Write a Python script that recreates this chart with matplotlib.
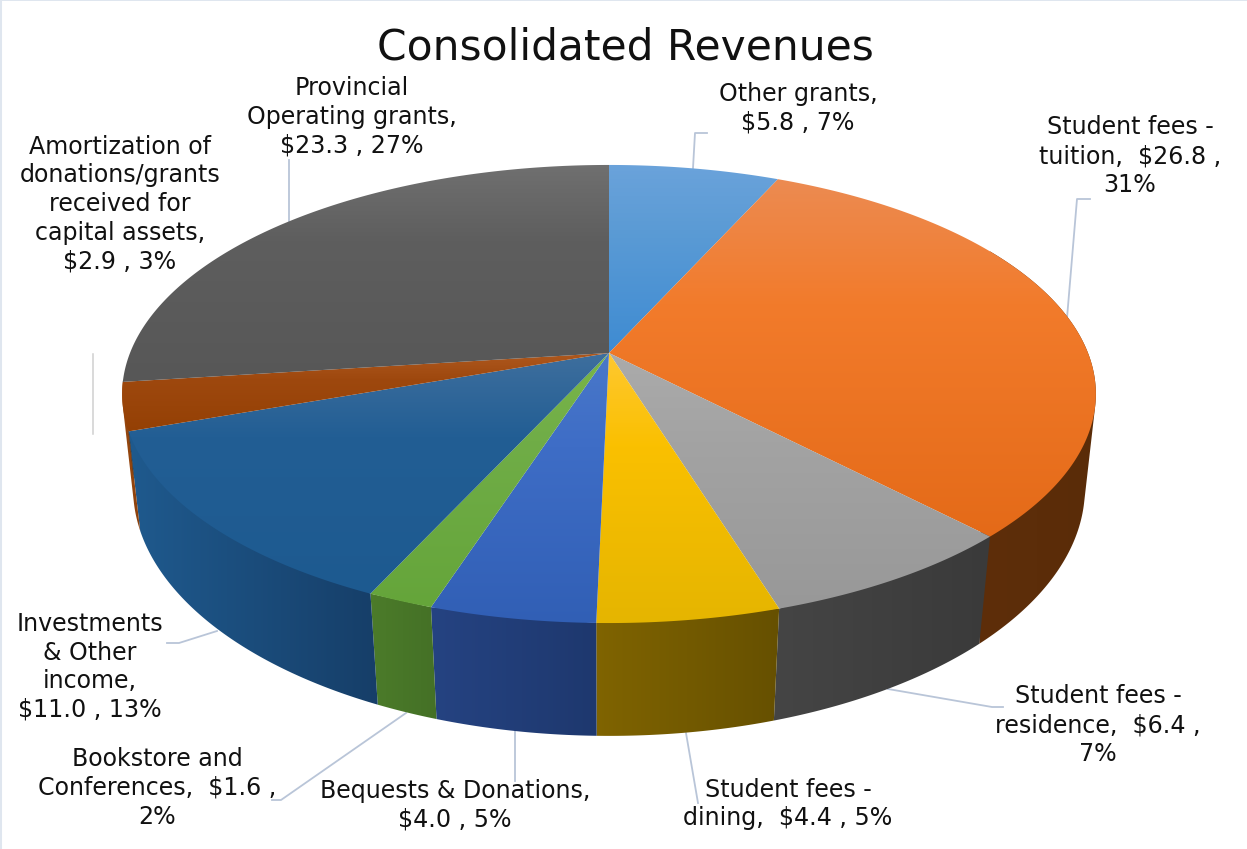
import numpy as np
import matplotlib
matplotlib.use("Agg")
import matplotlib.pyplot as plt
from matplotlib.colors import to_rgb
from matplotlib.patches import Polygon

# Slices, clockwise from 12 o'clock
names = ["Other grants", "Student fees - tuition", "Student fees - residence",
         "Student fees - dining", "Bequests & Donations", "Bookstore and Conferences",
         "Investments & Other income", "Amortization", "Provincial Operating grants"]
values = [5.8, 26.8, 6.4, 4.4, 4.0, 1.6, 11.0, 2.9, 23.3]
top_hi = ["#6BA3DB", "#EC8B52", "#ABABAB", "#FFC832", "#4A78C9", "#7AB648", "#3F6F9E", "#B05A20", "#707070"]
top_mid = ["#5B9BD5", "#F27B2B", "#A3A3A3", "#FAC000", "#3E6DC6", "#70AD47", "#225E94", "#9E480E", "#5E5E5E"]
top_lo = ["#3E8BD2", "#E46A18", "#989898", "#E5B500", "#315FB5", "#65A53A", "#1D5A90", "#944004", "#575757"]
wall_left = ["#3a6a96", "#5e2e0a", "#454545", "#806400", "#254382",
             "#4c7c2a", "#1f5a8e", "#9a4a10", "#3c3c3c"]
wall_right = ["#2e5a86", "#5a2c08", "#3a3a3a", "#665000", "#1e386e",
              "#447026", "#163e68", "#8a3f0c", "#333333"]

label_texts = ["Other grants,\n$5.8 , 7%",
               "Student fees -\ntuition,  $26.8 ,\n31%",
               "Student fees -\nresidence,  $6.4 ,\n7%",
               "Student fees -\ndining,  $4.4 , 5%",
               "Bequests & Donations,\n$4.0 , 5%",
               "Bookstore and\nConferences,  $1.6 ,\n2%",
               "Investments\n& Other\nincome,\n$11.0 , 13%",
               "Amortization of\ndonations/grants\nreceived for\ncapital assets,\n$2.9 , 3%",
               "Provincial\nOperating grants,\n$23.3 , 27%"]
label_x = [798, 1130, 1098, 788, 455, 157, 90, 120, 352]
label_y = [108, 156, 725, 804, 805, 788, 667, 204, 117]

leaders = [[(707, 133), (695, 133), (693, 168)],
           [(1090, 199), (1077, 199), (1067, 318)],
           [(888, 689), (992, 707), (1003, 707)],
           [(686, 733), (698, 803)],
           [(515, 730), (515, 781)],
           [(406, 713), (281, 800), (272, 800)],
           [(167, 643), (179, 643), (217, 631)],
           [(289, 160), (289, 222)]]

# perspective of the top and bottom discs (centre y, half axes, tilt)
CX = 609
TOP = dict(cy=353, a=479, b=221.7, k=0.179)
BOT = dict(cy=446, a=469, b=240.6, k=0.17)


def project(theta, disc):
    X = np.sin(theta)
    Y = np.cos(theta)
    d = 1 + disc["k"] * Y
    return CX + disc["a"] * X / d, disc["cy"] - disc["b"] * Y / d


def hull(points):
    pts = sorted(set(points))

    def half(seq):
        out = []
        for p in seq:
            while len(out) > 1 and ((out[-1][0] - out[-2][0]) * (p[1] - out[-2][1])
                                    - (out[-1][1] - out[-2][1]) * (p[0] - out[-2][0])) <= 0:
                out.pop()
            out.append(p)
        return out[:-1]

    return np.array(half(pts) + half(pts[::-1]))


def gradient(colors, vertical=True):
    stops = np.array([to_rgb(c) for c in colors])
    ramp = np.linspace(0, 1, 200)
    pos = [0, 1] if len(colors) == 2 else [0, 0.35, 1]
    rgb = np.stack([np.interp(ramp, pos, stops[:, c]) for c in range(3)], axis=1)
    return rgb[:, None, :] if vertical else rgb[None, :, :]


def fill_clipped(x, y, grad, zorder):
    im = ax.imshow(grad, extent=[x.min() - 2, x.max() + 2, y.max() + 2, y.min() - 2],
                   aspect="auto", interpolation="bilinear", zorder=zorder)
    im.set_clip_path(Polygon(np.c_[x, y], closed=True, transform=ax.transData))


fig = plt.figure(figsize=(12.47, 8.49), dpi=100, facecolor="white")
ax = fig.add_axes([0, 0, 1, 1])
ax.set_xticks([])
ax.set_yticks([])
ax.spines["right"].set_visible(False)
ax.spines["bottom"].set_visible(False)
ax.spines["left"].set(color="#dfe6ef", linewidth=2.9)
ax.spines["top"].set(color="#dfe6ef", linewidth=1.4)

edges = 2 * np.pi * np.concatenate([[0], np.cumsum(values)]) / np.sum(values)

# side walls, only the part facing the viewer; hull takes care of the tangent edges
lo_vis, hi_vis = np.radians(60), np.radians(263.4)
for i in range(len(values)):
    a0, a1 = max(edges[i], lo_vis), min(edges[i + 1], hi_vis)
    if a1 <= a0:
        continue
    th = np.linspace(a0, a1, 200)
    tx, ty = project(th, TOP)
    bx, by = project(th, BOT)
    h = hull(list(zip(np.r_[tx, bx], np.r_[ty, by])))
    fill_clipped(h[:, 0], h[:, 1], gradient([wall_left[i], wall_right[i]], vertical=False), 2)

# top face, each slice with its own vertical gradient
for i in range(len(values)):
    th = np.linspace(edges[i], edges[i + 1], 300)
    x, y = project(th, TOP)
    x = np.r_[CX, x]
    y = np.r_[TOP["cy"], y]
    fill_clipped(x, y, gradient([top_hi[i], top_mid[i], top_lo[i]]), 3)

ax.set_xlim(0, 1247)
ax.set_ylim(849, 0)

for pts in leaders:
    ax.plot([p[0] for p in pts], [p[1] for p in pts], color="#b9c5d8", linewidth=1.3, zorder=1)
# leader left behind in the source image
ax.plot([93, 93], [354, 434], color="#cfcfcf", linewidth=1.1, zorder=1)

for txt, lx, ly in zip(label_texts, label_x, label_y):
    ax.text(lx, ly, txt, ha="center", va="center", fontsize=17.1, color="#111111",
            linespacing=1.24, zorder=5)

ax.text(625, 47, "Consolidated Revenues", ha="center", va="center", fontsize=30.5, color="#111111", zorder=5)

fig.savefig("out.png", dpi=100)
